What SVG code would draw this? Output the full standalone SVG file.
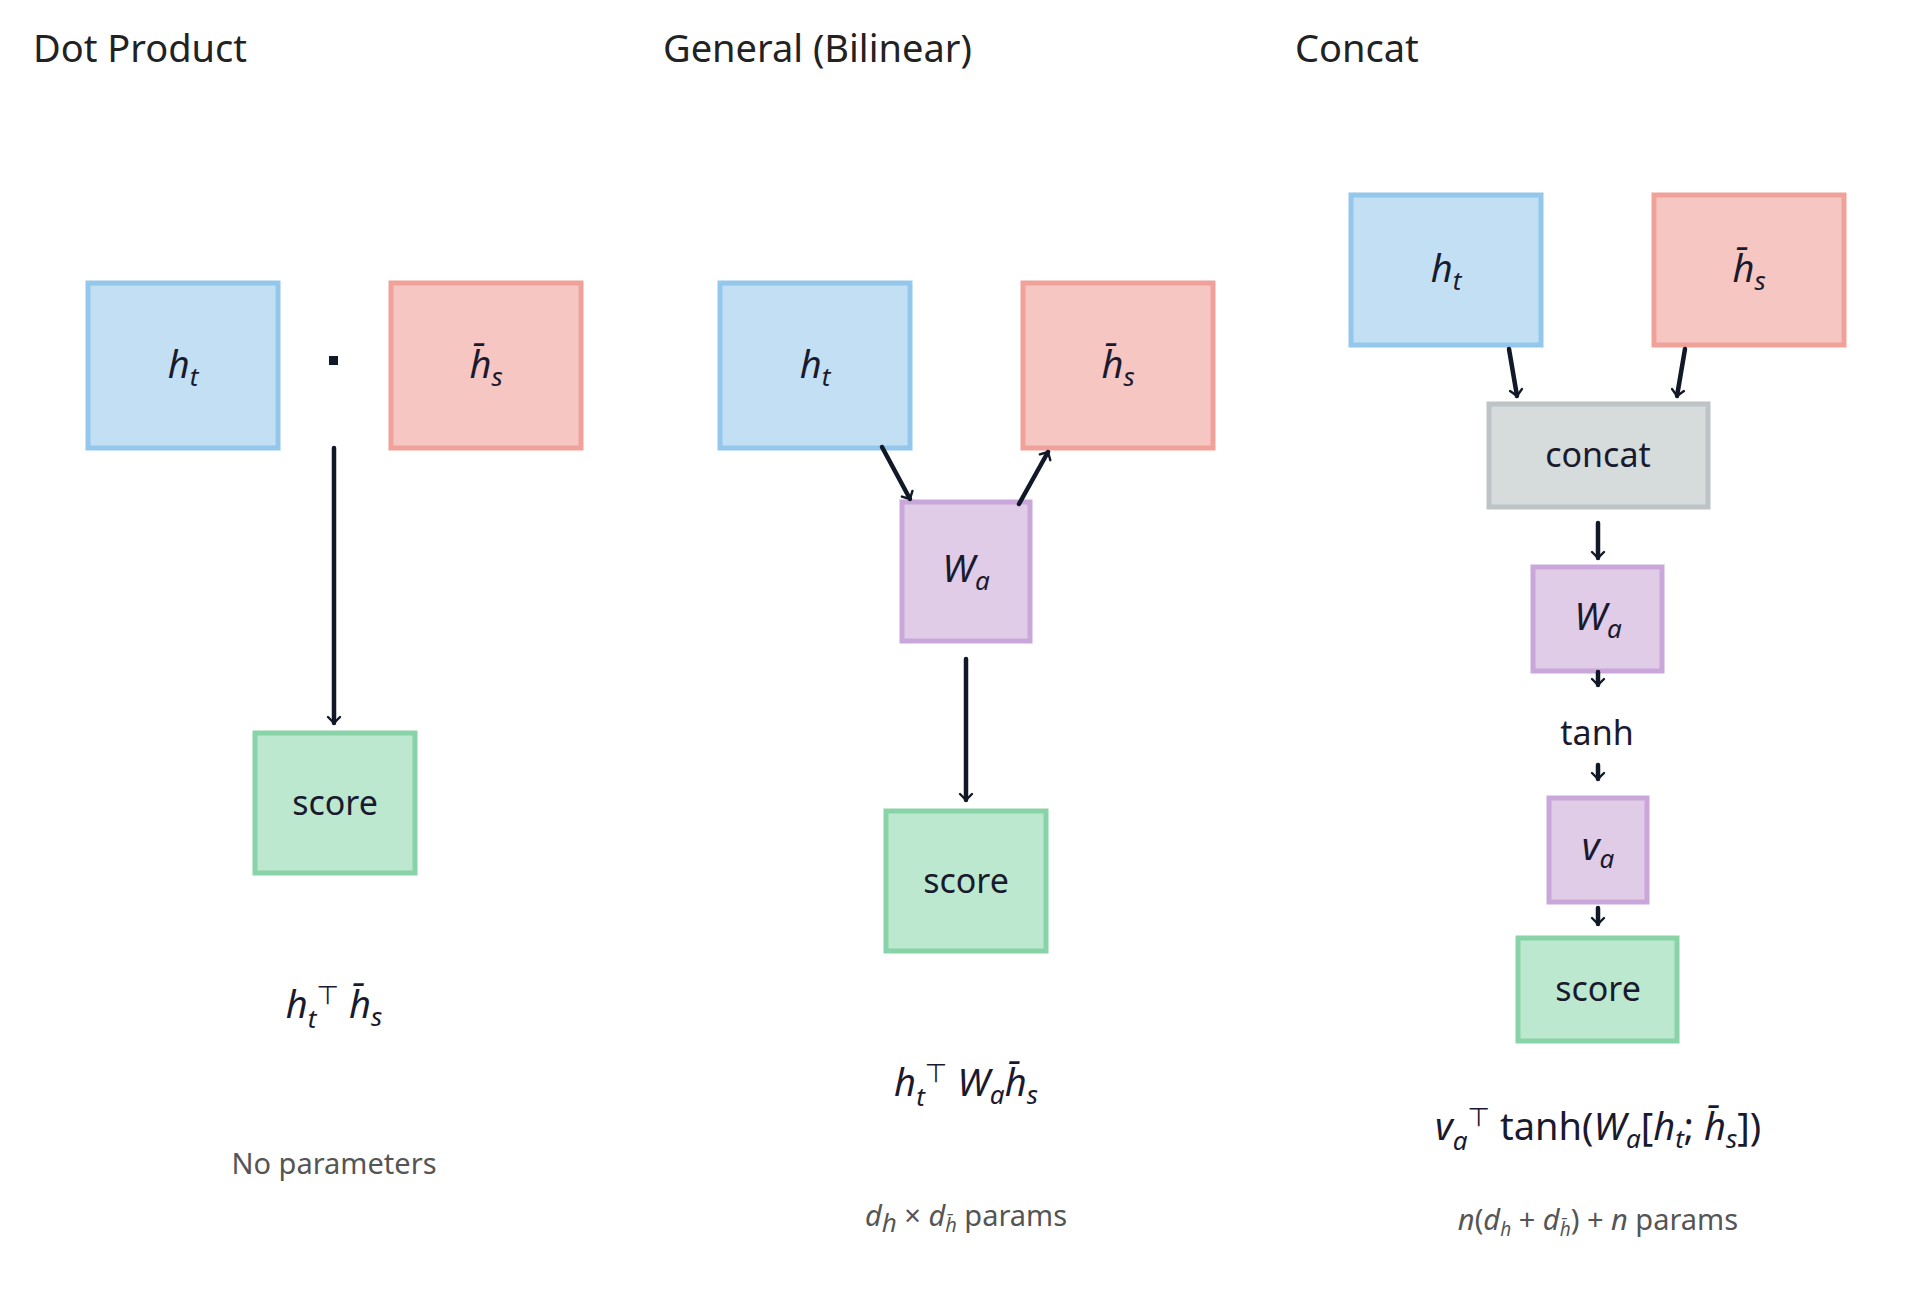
<svg xmlns="http://www.w3.org/2000/svg" width="1920" height="1292" viewBox="0 0 1920 1292">
<defs>
<marker id="ah" viewBox="0 0 12 12" refX="6" refY="10" markerWidth="5" markerHeight="5" orient="auto-start-reverse" markerUnits="userSpaceOnUse">
</marker>
<marker id="arr" viewBox="-8 -8 16 16" refX="0" refY="0" markerWidth="16" markerHeight="16" markerUnits="userSpaceOnUse" orient="auto">
<path d="M-6,-6 L0,0 L-6,6" fill="none" stroke="#111827" stroke-width="2.4" stroke-linecap="round" stroke-linejoin="round"/>
</marker>
<style>
text{font-family:"Noto Sans","DejaVu Sans",sans-serif;fill:#1a1a2e}
.title{font-size:38px;fill:#222}
.lbl{font-size:38px;font-style:italic;text-anchor:middle}
.txt{font-size:34px;text-anchor:middle}
.fm{font-size:38px;font-style:italic;text-anchor:middle}
.prm{font-size:29px;text-anchor:middle;fill:#555}
.sub{font-size:26px}
rect{stroke-width:5}
.blue{fill:#c2dff3;stroke:#93c8ec}
.red{fill:#f6c6c3;stroke:#f0a199}
.pur{fill:#e0cce6;stroke:#caa7da}
.grn{fill:#bde8d0;stroke:#88d3a7}
.gry{fill:#d6dbdc;stroke:#bec4c6}
.c line{stroke:#111827;stroke-width:4.5;stroke-linecap:round;marker-end:url(#arr)}
</style>
</defs>
<rect x="0" y="0" width="1920" height="1292" fill="#fff" style="stroke:none"/>
<text class="title" x="33" y="62">Dot Product</text>
<text class="title" x="663" y="62">General (Bilinear)</text>
<text class="title" x="1295" y="62">Concat</text>

<g id="dp_ht"><rect class="blue" x="88" y="283" width="190" height="165"/><text class="lbl" x="183" y="378">h<tspan class="sub" dy="8">t</tspan></text></g>
<g id="dp_hs"><rect class="red" x="391" y="283" width="190" height="165"/><text class="lbl" x="486" y="378">h̄<tspan class="sub" dy="8">s</tspan></text></g>
<g id="dp_dot"><rect x="329" y="356" width="9" height="9" fill="#111827" style="stroke:none"/></g>
<g id="dp_score"><rect class="grn" x="255" y="733" width="160" height="140"/><text class="txt" x="335" y="815">score</text></g>
<g id="dp_f"><text class="fm" x="334" y="1018">h<tspan class="sub" dy="10">t</tspan><tspan class="sub" dy="-24" font-style="normal">⊤</tspan><tspan dy="14"> h̄</tspan><tspan class="sub" dy="8">s</tspan></text></g>
<g id="dp_p"><text class="prm" x="334" y="1174">No parameters</text></g>

<g id="g_ht"><rect class="blue" x="720" y="283" width="190" height="165"/><text class="lbl" x="815" y="378">h<tspan class="sub" dy="8">t</tspan></text></g>
<g id="g_hs"><rect class="red" x="1023" y="283" width="190" height="165"/><text class="lbl" x="1118" y="378">h̄<tspan class="sub" dy="8">s</tspan></text></g>
<g id="g_wa"><rect class="pur" x="902" y="502" width="128" height="139"/><text class="lbl" x="966" y="582">W<tspan class="sub" dy="8">a</tspan></text></g>
<g id="g_score"><rect class="grn" x="886" y="811" width="160" height="140"/><text class="txt" x="966" y="893">score</text></g>
<g id="g_f"><text class="fm" x="966" y="1096">h<tspan class="sub" dy="10">t</tspan><tspan class="sub" dy="-24" font-style="normal">⊤</tspan><tspan dy="14"> W</tspan><tspan class="sub" dy="8">a</tspan><tspan dy="-8">h̄</tspan><tspan class="sub" dy="8">s</tspan></text></g>
<g id="g_p"><text class="prm" x="966" y="1226"><tspan font-style="italic">d</tspan><tspan class="sub" font-style="italic" font-size="20" dy="6">h</tspan><tspan dy="-6"> × </tspan><tspan font-style="italic">d</tspan><tspan font-style="italic" font-size="20" dy="6">h̄</tspan><tspan dy="-6"> params</tspan></text></g>

<g id="c_ht"><rect class="blue" x="1351" y="195" width="190" height="150"/><text class="lbl" x="1446" y="282">h<tspan class="sub" dy="8">t</tspan></text></g>
<g id="c_hs"><rect class="red" x="1654" y="195" width="190" height="150"/><text class="lbl" x="1749" y="282">h̄<tspan class="sub" dy="8">s</tspan></text></g>
<g id="c_concat"><rect class="gry" x="1489" y="404" width="219" height="103"/><text class="txt" x="1598" y="467">concat</text></g>
<g id="c_wa"><rect class="pur" x="1533" y="567" width="129" height="104"/><text class="lbl" x="1598" y="630">W<tspan class="sub" dy="8">a</tspan></text></g>
<g id="c_tanh"><text class="txt" x="1597" y="745" fill="#333">tanh</text></g>
<g id="c_va"><rect class="pur" x="1549" y="798" width="98" height="104"/><text class="lbl" x="1598" y="860">v<tspan class="sub" dy="8">a</tspan></text></g>
<g id="c_score"><rect class="grn" x="1518" y="938" width="159" height="103"/><text class="txt" x="1598" y="1001">score</text></g>
<g id="c_f"><text class="fm" x="1598" y="1140"><tspan>v</tspan><tspan class="sub" dy="10">a</tspan><tspan class="sub" dy="-24" font-style="normal">⊤</tspan><tspan dy="14" font-style="normal"> tanh(</tspan><tspan>W</tspan><tspan class="sub" dy="8">a</tspan><tspan dy="-8" font-style="normal">[</tspan><tspan>h</tspan><tspan class="sub" dy="8">t</tspan><tspan dy="-8" font-style="normal">; </tspan><tspan>h̄</tspan><tspan class="sub" dy="8">s</tspan><tspan dy="-8" font-style="normal">])</tspan></text></g>
<g id="c_p"><text class="prm" x="1598" y="1230" font-size="27"><tspan font-style="italic">n</tspan>(<tspan font-style="italic">d</tspan><tspan font-style="italic" font-size="19" dy="6">h</tspan><tspan dy="-6"> + </tspan><tspan font-style="italic">d</tspan><tspan font-style="italic" font-size="19" dy="6">h̄</tspan><tspan dy="-6">) + </tspan><tspan font-style="italic">n</tspan> params</text></g>

<g id="connectors" class="c">
<line x1="334" y1="448" x2="334" y2="723"/>
<line x1="882" y1="447" x2="910" y2="499"/>
<line x1="1019" y1="504" x2="1048" y2="452"/>
<line x1="966" y1="659" x2="966" y2="800"/>
<line x1="1509" y1="349" x2="1517" y2="396"/>
<line x1="1685" y1="349" x2="1677" y2="396"/>
<line x1="1598" y1="523" x2="1598" y2="558"/>
<line x1="1598" y1="672" x2="1598" y2="685"/>
<line x1="1598" y1="765" x2="1598" y2="779"/>
<line x1="1598" y1="908" x2="1598" y2="924"/>
</g>
</svg>
